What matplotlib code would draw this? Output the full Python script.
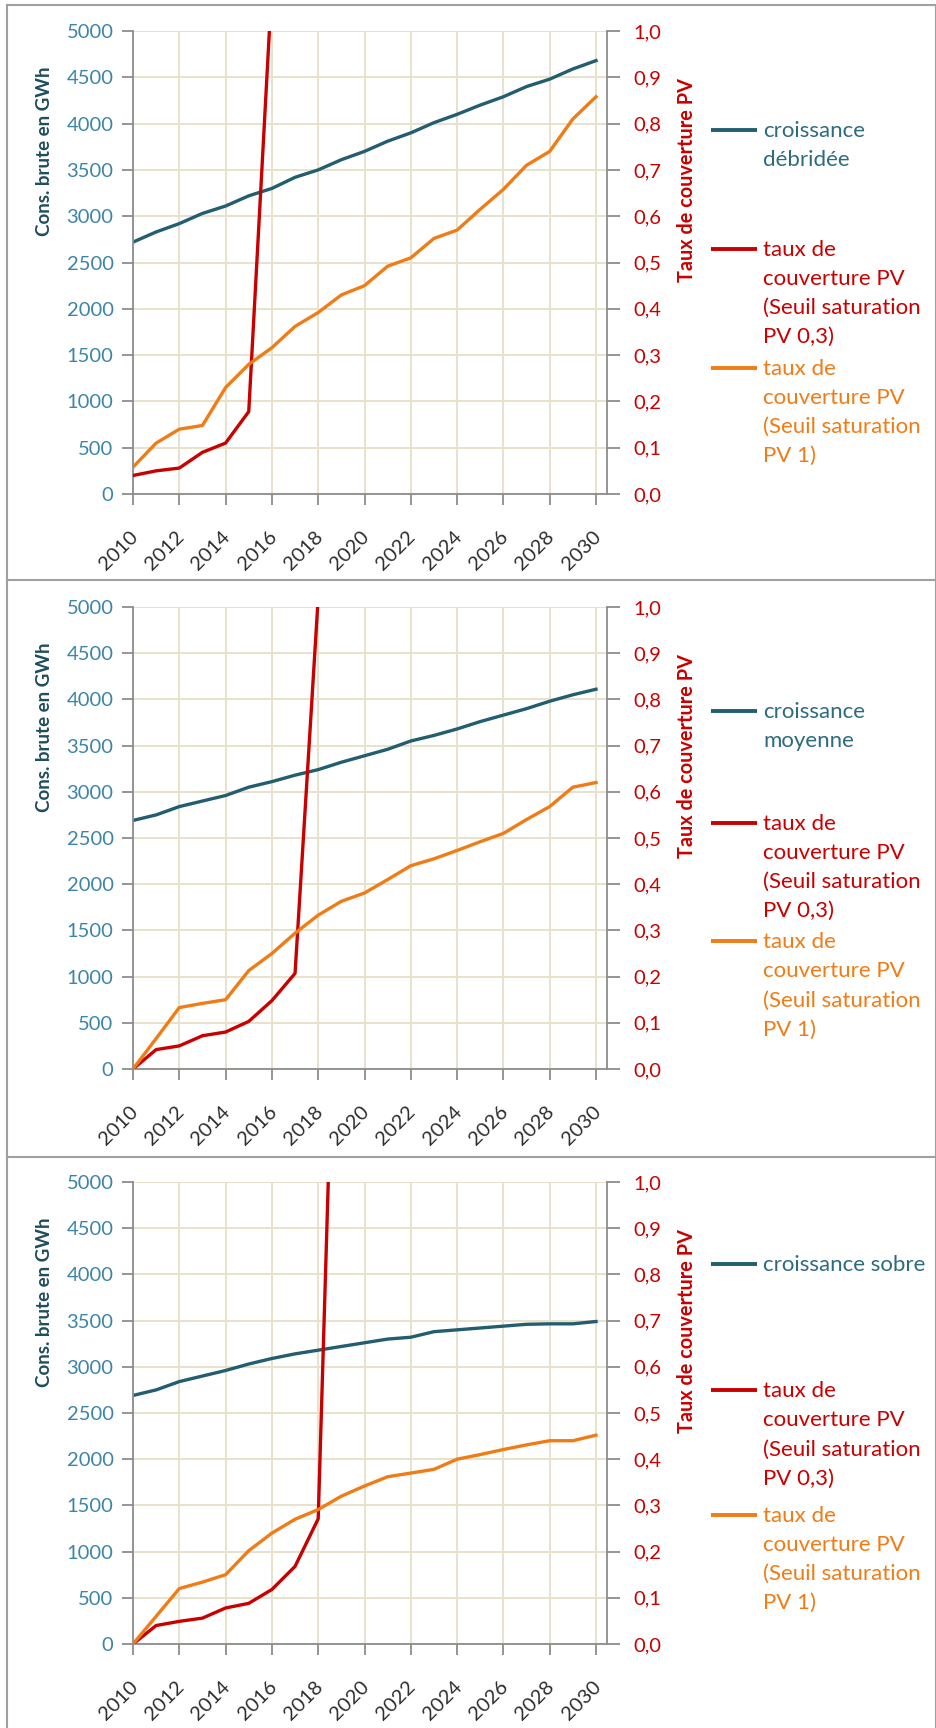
import matplotlib
matplotlib.use("Agg")
import matplotlib.pyplot as plt
import numpy as np
from matplotlib.lines import Line2D
from matplotlib.transforms import ScaledTranslation
from matplotlib.ticker import FuncFormatter

plt.rcParams["font.family"] = ["Lato", "DejaVu Sans"]

# ---------------------------------------------------------------- data
years = list(range(2010, 2031))
year_ticks = list(range(2010, 2031, 2))

# gross consumption (GWh) for the three growth scenarios
conso_debridee = [2720, 2830, 2920, 3030, 3110, 3220, 3300, 3420, 3500, 3610, 3700,
                  3810, 3900, 4010, 4100, 4200, 4290, 4400, 4480, 4590, 4680]
conso_moyenne = [2690, 2750, 2840, 2900, 2960, 3050, 3110, 3180, 3240, 3320, 3390,
                 3460, 3550, 3610, 3680, 3760, 3830, 3900, 3980, 4050, 4110]
conso_sobre = [2690, 2750, 2840, 2900, 2960, 3030, 3090, 3140, 3180, 3220, 3260,
               3300, 3320, 3380, 3400, 3420, 3440, 3460, 3465, 3465, 3490]

# PV coverage rate, saturation threshold 0.3 (only the part below the axis top)
taux_s03_debridee = [0.040, 0.050, 0.056, 0.090, 0.110, 0.178, 1.10]
taux_s03_moyenne = [0.000, 0.042, 0.050, 0.072, 0.080, 0.103, 0.148, 0.207, 1.02]
taux_s03_sobre = [0.000, 0.040, 0.049, 0.056, 0.078, 0.088, 0.118, 0.168, 0.271, 1.95]

# PV coverage rate, saturation threshold 1
taux_s1_debridee = [0.058, 0.110, 0.140, 0.148, 0.230, 0.280, 0.316, 0.362, 0.392, 0.430, 0.450,
                    0.492, 0.510, 0.552, 0.570, 0.615, 0.658, 0.710, 0.740, 0.810, 0.858]
taux_s1_moyenne = [0.000, 0.066, 0.133, 0.142, 0.150, 0.213, 0.250, 0.294, 0.333, 0.363, 0.381,
                   0.410, 0.440, 0.455, 0.473, 0.492, 0.510, 0.540, 0.568, 0.610, 0.620]
taux_s1_sobre = [0.000, 0.060, 0.120, 0.134, 0.150, 0.202, 0.240, 0.270, 0.291, 0.320, 0.342,
                 0.362, 0.370, 0.378, 0.400, 0.410, 0.421, 0.431, 0.440, 0.440, 0.452]

scenario_labels = ["croissance\ndébridée", "croissance\nmoyenne", "croissance sobre"]
label_s03 = "taux de\ncouverture PV\n(Seuil saturation\nPV 0,3)"
label_s1 = "taux de\ncouverture PV\n(Seuil saturation\nPV 1)"
left_title = "Cons. brute en GWh"
right_title = "Taux de couverture PV"

# ---------------------------------------------------------------- style
TEAL = "#225E6F"
TEAL_DARK = "#1E4D5C"
TEAL_TEXT = "#2D6B80"
TICK_BLUE = "#3C85A8"
RED = "#C90000"
ORANGE = "#F07C16"
GRID = "#E8E2CC"
SPINE = "#8C8C8C"
FRAME = "#A0A0A0"
XTICK = "#2E2E2E"

W, H, DPI = 937, 1728, 100
fig = plt.figure(figsize=(W / DPI, H / DPI), dpi=DPI)
fig.patch.set_facecolor("white")


def px_axes(left, top, right, bottom):
    return fig.add_axes([left / W, 1 - bottom / H, (right - left) / W, (bottom - top) / H])


def px_offset(dx, dy):
    return ScaledTranslation(dx / DPI, dy / DPI, fig.dpi_scale_trans)


panels = [
    dict(top=31, bottom=494, conso=conso_debridee, s03=taux_s03_debridee, s1=taux_s1_debridee,
         label=scenario_labels[0], leg_y=(0.786, 0.529, 0.273)),
    dict(top=607, bottom=1069, conso=conso_moyenne, s03=taux_s03_moyenne, s1=taux_s1_moyenne,
         label=scenario_labels[1], leg_y=(0.775, 0.533, 0.276)),
    dict(top=1182, bottom=1644, conso=conso_sobre, s03=taux_s03_sobre, s1=taux_s1_sobre,
         label=scenario_labels[2], leg_y=(0.822, 0.549, 0.279)),
]

for p in panels:
    ax = px_axes(133, p["top"], 607, p["bottom"])
    ax2 = ax.twinx()

    ax.set_xlim(2010, 2030.475)
    ax.set_ylim(0, 5000)
    ax2.set_ylim(0, 1)

    ax.set_xticks(year_ticks)
    ax.set_yticks(range(0, 5001, 500))
    ax2.set_yticks(np.round(np.arange(0, 1.01, 0.1), 1))
    ax2.yaxis.set_major_formatter(FuncFormatter(lambda v, _: f"{v:.1f}".replace(".", ",")))

    ax.grid(True, color=GRID, lw=1.4)
    ax.set_axisbelow(True)

    for s in ("top", "right"):
        ax.spines[s].set_visible(False)
    for s in ("left", "bottom"):
        ax.spines[s].set_color(SPINE)
        ax.spines[s].set_linewidth(1.3)
    for s in ("top", "left", "bottom"):
        ax2.spines[s].set_visible(False)
    ax2.spines["right"].set_color(SPINE)
    ax2.spines["right"].set_linewidth(1.3)

    ax.tick_params(axis="y", direction="out", length=8, width=1.3, color=SPINE,
                   labelcolor=TICK_BLUE, labelsize=14.5, pad=6)
    ax.tick_params(axis="x", direction="out", length=8, width=1.3, color=SPINE,
                   labelcolor=XTICK, labelsize=14.5, pad=9)
    ax2.tick_params(axis="y", direction="out", length=9, width=1.3, color=SPINE,
                    labelcolor=RED, labelsize=14.5, pad=10)

    ax.set_xticklabels([str(y) for y in year_ticks], rotation=45, ha="right", va="top")
    for lbl in ax.get_xticklabels():
        lbl.set_transform(lbl.get_transform() + px_offset(8, -10))

    ax.set_ylabel(left_title, fontsize=13.5, fontweight="bold", color=TEAL_DARK)
    ax.yaxis.label.set(ha="center", va="center", rotation_mode="default")
    ax.yaxis.set_label_coords(-0.187, 0.74)

    ax2.set_ylabel(right_title, fontsize=14.3, fontweight="bold", color=RED, rotation=90)
    ax2.yaxis.label.set(ha="center", va="center", rotation_mode="default")
    ax2.yaxis.set_label_coords(1.169, 0.677)

    ax.plot(years, p["conso"], color=TEAL, lw=2.4, solid_joinstyle="round")
    ax2.plot(years[:len(p["s03"])], p["s03"], color=RED, lw=2.4, solid_joinstyle="round")
    ax2.plot(years, p["s1"], color=ORANGE, lw=2.4, solid_joinstyle="round")

    # legend keys and wrapped labels to the right of the plot area
    entries = [(p["label"], TEAL, TEAL_TEXT), (label_s03, RED, RED), (label_s1, ORANGE, ORANGE)]
    for (text, lc, tc), ly in zip(entries, p["leg_y"]):
        fig.add_artist(Line2D([1.219, 1.316], [ly, ly], transform=ax.transAxes,
                              color=lc, lw=2.8, solid_capstyle="butt"))
        for k, line in enumerate(text.split("\n")):
            fig.text(1.329, ly, line, transform=ax.transAxes + px_offset(0, -(7 + 29 * k)),
                     ha="left", va="baseline", fontsize=16, color=tc)

# panel frames
frame_kw = dict(transform=fig.transFigure, color=FRAME, lw=1.5)
fig.add_artist(Line2D([7 / W, 7 / W], [0, 1 - 5 / H], **frame_kw))
fig.add_artist(Line2D([936 / W, 936 / W], [0, 1 - 5 / H], **frame_kw))
for yy in (5, 580, 1157):
    fig.add_artist(Line2D([7 / W, 936 / W], [1 - yy / H, 1 - yy / H], **frame_kw))

fig.savefig("out.png", dpi=DPI, facecolor="white")
